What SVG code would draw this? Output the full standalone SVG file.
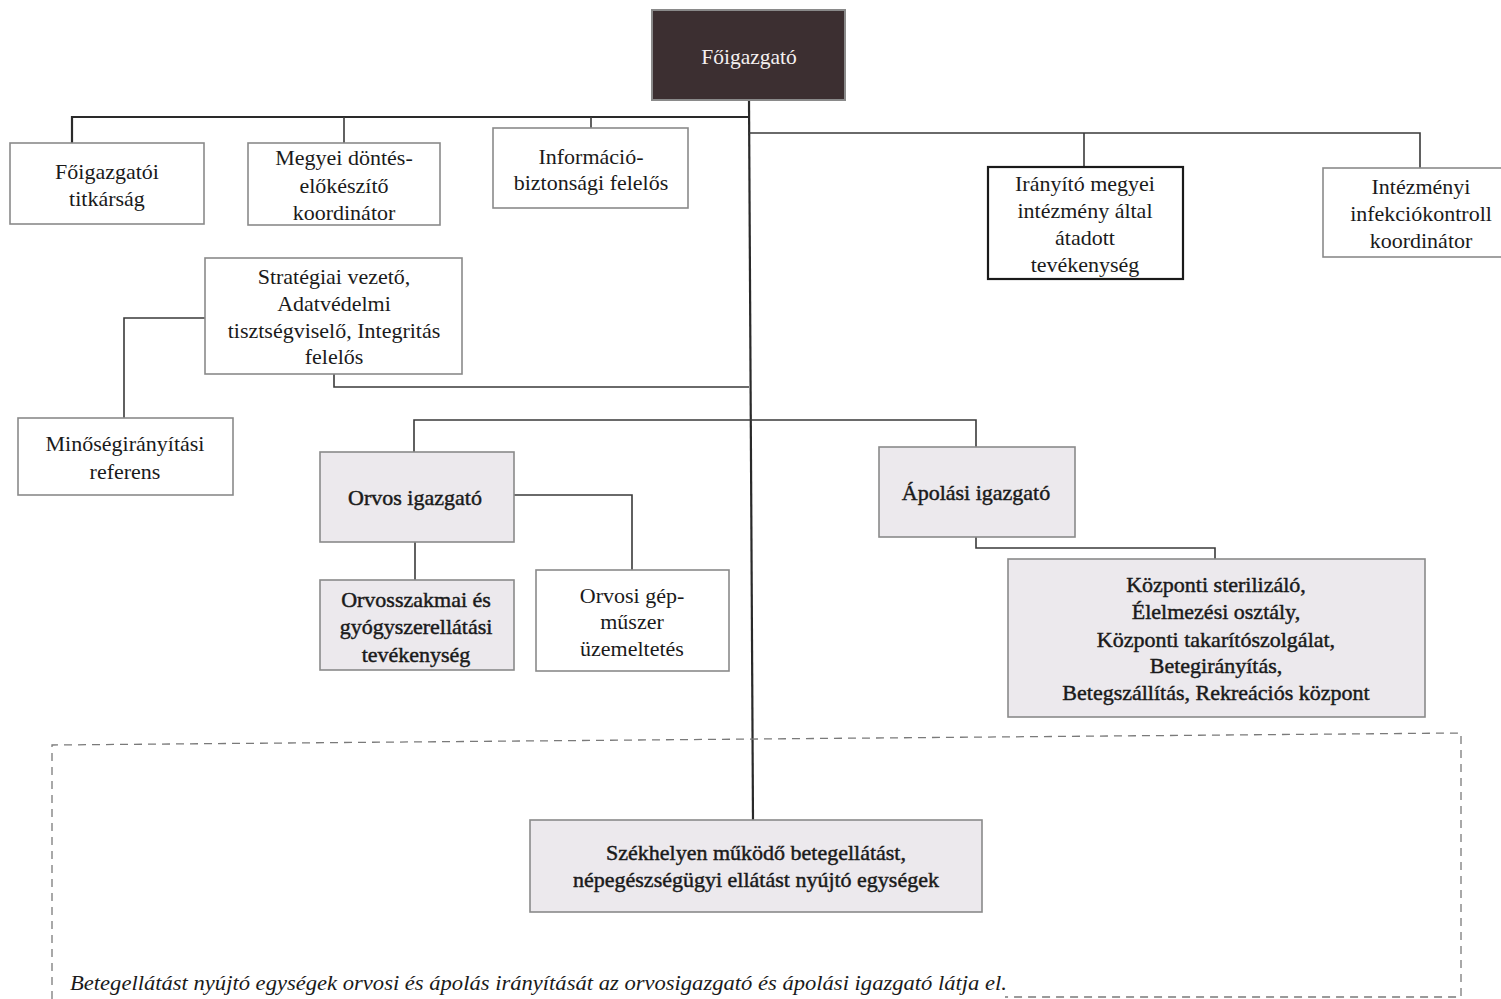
<svg xmlns="http://www.w3.org/2000/svg" width="1501" height="999" viewBox="0 0 1501 999">
<style>
.box{fill:#ffffff;stroke:#8a8a8a;stroke-width:1.6}
.grey{fill:#ece9ed;stroke:#8a8a8a;stroke-width:1.6}
.dark{fill:#3c2f31;stroke:#8a8a8a;stroke-width:2}
.thick{fill:#ffffff;stroke:#1a1a1a;stroke-width:2.2}
text{font-family:"Liberation Serif","Times New Roman",serif;font-size:22px;fill:#1a1a1a;text-anchor:middle}
.g text{stroke:#1a1a1a;stroke-width:0.45}
.w{fill:#f4f0f0;font-size:21.5px}
.it{font-style:italic;text-anchor:start;font-size:21px}
.c{fill:none;stroke:#3a3a3a;stroke-width:1.6}
.trunk{fill:none;stroke:#2a2a2a;stroke-width:2.2}
.dash{fill:none;stroke:#7a7a7a;stroke-width:1.3;stroke-dasharray:8 6}
</style>
<rect width="1501" height="999" fill="#ffffff"/>
<g id="connectors">
<path class="trunk" d="M749,100 L753,820"/>
<path class="trunk" d="M72,143 V117 H749"/>
<path class="c" d="M344,143 V117"/>
<path class="c" d="M591,128 V117"/>
<path class="c" d="M749,133 H1420 V168"/>
<path class="c" d="M1084,133 V167"/>
<path class="c" d="M205,318 H124 V418"/>
<path class="c" d="M334,374 V387 H749"/>
<path class="c" d="M414,452 V420 H976 V447"/>
<path class="c" d="M415,542 V580"/>
<path class="c" d="M514,495 H632 V570"/>
<path class="c" d="M976,537 V548 H1215 V559"/>
</g>
<g id="group-frame">
<path class="dash" d="M52,999 V745 L1461,733 V997 H1005"/>
</g>
<g id="n-foigazgato">
<rect class="dark" x="652" y="10" width="193" height="90"/>
<text class="w" x="749" y="64">Főigazgató</text>
</g>
<g id="n-titkarsag">
<rect class="box" x="10" y="143" width="194" height="81"/>
<text x="107" y="179">Főigazgatói</text>
<text x="107" y="206">titkárság</text>
</g>
<g id="n-megyei">
<rect class="box" x="248" y="143" width="192" height="82"/>
<text x="344" y="165">Megyei döntés-</text>
<text x="344" y="193">előkészítő</text>
<text x="344" y="220">koordinátor</text>
</g>
<g id="n-informacio">
<rect class="box" x="493" y="128" width="195" height="80"/>
<text x="591" y="164">Információ-</text>
<text x="591" y="190">biztonsági felelős</text>
</g>
<g id="n-iranyito">
<rect class="thick" x="988" y="167" width="195" height="112"/>
<text x="1085" y="191">Irányító megyei</text>
<text x="1085" y="218">intézmény által</text>
<text x="1085" y="245">átadott</text>
<text x="1085" y="272">tevékenység</text>
</g>
<g id="n-infekcio">
<rect class="box" x="1323" y="168" width="185" height="89"/>
<text x="1421" y="194">Intézményi</text>
<text x="1421" y="221">infekciókontroll</text>
<text x="1421" y="248">koordinátor</text>
</g>
<g id="n-strategiai">
<rect class="box" x="205" y="258" width="257" height="116"/>
<text x="334" y="284">Stratégiai vezető,</text>
<text x="334" y="311">Adatvédelmi</text>
<text x="334" y="338">tisztségviselő, Integritás</text>
<text x="334" y="364">felelős</text>
</g>
<g id="n-minoseg">
<rect class="box" x="18" y="418" width="215" height="77"/>
<text x="125" y="451">Minőségirányítási</text>
<text x="125" y="479">referens</text>
</g>
<g id="n-orvos" class="g">
<rect class="grey" x="320" y="452" width="194" height="90"/>
<text x="415" y="505">Orvos igazgató</text>
</g>
<g id="n-orvosszakmai" class="g">
<rect class="grey" x="320" y="580" width="194" height="90"/>
<text x="416" y="607">Orvosszakmai és</text>
<text x="416" y="634">gyógyszerellátási</text>
<text x="416" y="662">tevékenység</text>
</g>
<g id="n-gepmuszer">
<rect class="box" x="536" y="570" width="193" height="101"/>
<text x="632" y="603">Orvosi gép-</text>
<text x="632" y="629">műszer</text>
<text x="632" y="656">üzemeltetés</text>
</g>
<g id="n-apolasi" class="g">
<rect class="grey" x="879" y="447" width="196" height="90"/>
<text x="976" y="500">Ápolási igazgató</text>
</g>
<g id="n-kozponti" class="g">
<rect class="grey" x="1008" y="559" width="417" height="158"/>
<text x="1216" y="592">Központi sterilizáló,</text>
<text x="1216" y="619">Élelmezési osztály,</text>
<text x="1216" y="647">Központi takarítószolgálat,</text>
<text x="1216" y="673">Betegirányítás,</text>
<text x="1216" y="700">Betegszállítás, Rekreációs központ</text>
</g>
<g id="n-szekhely" class="g">
<rect class="grey" x="530" y="820" width="452" height="92"/>
<text x="756" y="860">Székhelyen működő betegellátást,</text>
<text x="756" y="887">népegészségügyi ellátást nyújtó egységek</text>
</g>
<g id="note">
<text class="it" x="70" y="990" textLength="937" lengthAdjust="spacingAndGlyphs">Betegellátást nyújtó egységek orvosi és ápolás irányítását az orvosigazgató és ápolási igazgató látja el.</text>
</g>
</svg>
